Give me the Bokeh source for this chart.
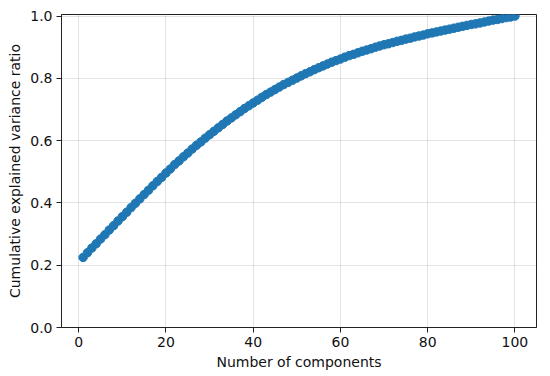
from bokeh.plotting import figure
from bokeh.models import Range1d, FixedTicker, PrintfTickFormatter, ColumnDataSource
from bokeh.embed import file_html
from bokeh.resources import INLINE

components = list(range(1, 101))
cumulative_ratio = [
    0.225, 0.240, 0.255, 0.269, 0.284, 0.298, 0.313, 0.327, 0.342, 0.356,
    0.370, 0.385, 0.399, 0.413, 0.427, 0.441, 0.455, 0.469, 0.482, 0.496,
    0.509, 0.523, 0.535, 0.548, 0.560, 0.573, 0.585, 0.596, 0.608, 0.619,
    0.630, 0.641, 0.652, 0.663, 0.673, 0.683, 0.693, 0.703, 0.712, 0.721,
    0.730, 0.739, 0.748, 0.756, 0.764, 0.772, 0.780, 0.787, 0.794, 0.801,
    0.808, 0.815, 0.821, 0.828, 0.834, 0.840, 0.846, 0.852, 0.857, 0.862,
    0.868, 0.873, 0.877, 0.882, 0.887, 0.891, 0.895, 0.900, 0.904, 0.908,
    0.911, 0.915, 0.919, 0.922, 0.926, 0.929, 0.933, 0.936, 0.939, 0.943,
    0.946, 0.949, 0.952, 0.955, 0.958, 0.961, 0.964, 0.967, 0.970, 0.973,
    0.975, 0.978, 0.981, 0.984, 0.987, 0.989, 0.992, 0.995, 0.997, 1.000,
]
x_ticks = [0, 20, 40, 60, 80, 100]
y_ticks = [0.0, 0.2, 0.4, 0.6, 0.8, 1.0]

FONT = "DejaVu Sans"
COLOR = "#1f77b4"

src = ColumnDataSource(dict(x=components, y=cumulative_ratio))

p = figure(
    width=550, height=376,
    frame_width=475, frame_height=313,
    min_border_left=61, min_border_right=14, min_border_top=14, min_border_bottom=49,
    x_range=Range1d(-3.95, 104.95), y_range=Range1d(0, 1.005),
    output_backend="svg", toolbar_location=None,
)

p.line("x", "y", source=src, line_color=COLOR, line_width=2)
p.scatter("x", "y", source=src, size=8.5, fill_color=COLOR, line_color=COLOR)

p.outline_line_color = "#222222"
p.outline_line_width = 1
p.background_fill_color = "white"
p.border_fill_color = "white"

for ax in (p.xaxis[0], p.yaxis[0]):
    ax.axis_line_color = "#222222"
    ax.axis_line_width = 1
    ax.major_tick_line_color = "#222222"
    ax.major_tick_out = 5
    ax.major_tick_in = 0
    ax.minor_tick_line_color = None
    ax.major_label_text_font = FONT
    ax.major_label_text_font_size = "14px"
    ax.major_label_text_color = "#111111"
    ax.axis_label_text_font = FONT
    ax.axis_label_text_font_size = "14px"
    ax.axis_label_text_font_style = "normal"
    ax.axis_label_text_color = "#111111"

p.xaxis[0].ticker = FixedTicker(ticks=x_ticks)
p.yaxis[0].ticker = FixedTicker(ticks=y_ticks)
p.yaxis[0].formatter = PrintfTickFormatter(format="%.1f")
p.xaxis[0].axis_label = "Number of components"
p.yaxis[0].axis_label = "Cumulative explained variance ratio"
p.xaxis[0].major_label_standoff = 4
p.yaxis[0].major_label_standoff = 4
p.xaxis[0].axis_label_standoff = 4
p.yaxis[0].axis_label_standoff = 4

p.grid.grid_line_color = "#b0b0b0"
p.grid.grid_line_alpha = 0.35
p.grid.grid_line_width = 1

open("out.html", "w").write(file_html(p, INLINE))
